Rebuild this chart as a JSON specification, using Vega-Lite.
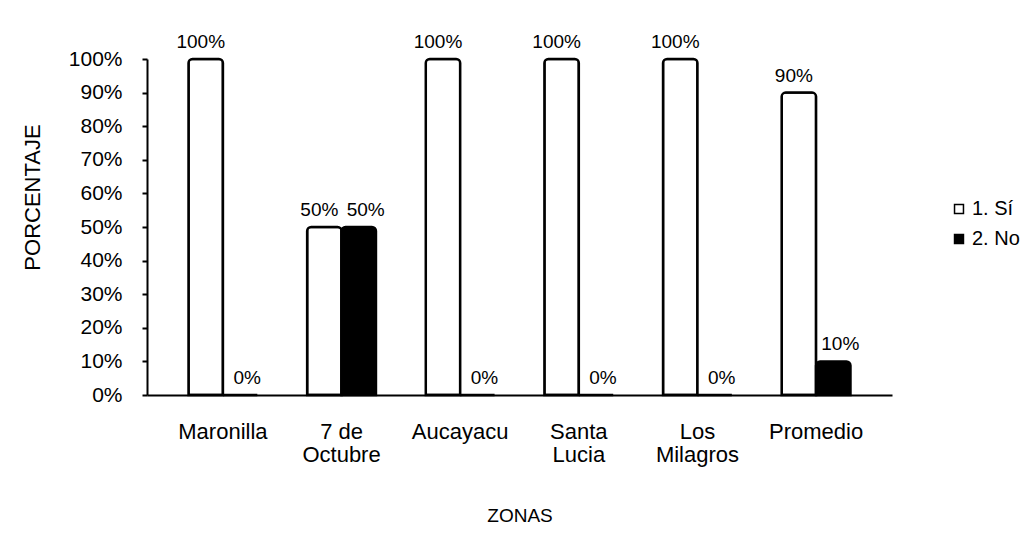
{
  "$schema": "https://vega.github.io/schema/vega-lite/v6.json",
  "autosize": {"type": "none"},
  "width": 745,
  "height": 336,
  "padding": {"left": 147, "top": 59, "right": 134, "bottom": 150},
  "background": "white",
  "config": {
    "font": "Liberation Sans",
    "view": {"stroke": null}
  },
  "data": {
    "values": [
      {"zona": "Maronilla", "serie": "1. Sí", "valor": 1.0},
      {"zona": "Maronilla", "serie": "2. No", "valor": 0.0},
      {"zona": "7 de|Octubre", "serie": "1. Sí", "valor": 0.5},
      {"zona": "7 de|Octubre", "serie": "2. No", "valor": 0.5},
      {"zona": "Aucayacu", "serie": "1. Sí", "valor": 1.0},
      {"zona": "Aucayacu", "serie": "2. No", "valor": 0.0},
      {"zona": "Santa|Lucia", "serie": "1. Sí", "valor": 1.0},
      {"zona": "Santa|Lucia", "serie": "2. No", "valor": 0.0},
      {"zona": "Los|Milagros", "serie": "1. Sí", "valor": 1.0},
      {"zona": "Los|Milagros", "serie": "2. No", "valor": 0.0},
      {"zona": "Promedio", "serie": "1. Sí", "valor": 0.9},
      {"zona": "Promedio", "serie": "2. No", "valor": 0.1}
    ]
  },
  "encoding": {
    "x": {
      "field": "zona",
      "type": "nominal",
      "sort": null,
      "scale": {"paddingInner": 0.42, "paddingOuter": 0.35},
      "axis": {
        "title": "ZONAS",
        "titleFontSize": 19,
        "titleFontWeight": "normal",
        "titleColor": "black",
        "titlePadding": 41,
        "labelExpr": "split(datum.label, '|')",
        "labelAngle": 0,
        "labelFontSize": 22,
        "labelColor": "black",
        "labelPadding": 26,
        "labelLineHeight": 23,
        "domain": true,
        "domainColor": "black",
        "domainWidth": 2,
        "ticks": false
      }
    },
    "xOffset": {"field": "serie", "type": "nominal"},
    "y": {
      "field": "valor",
      "type": "quantitative",
      "scale": {"domain": [0, 1]},
      "axis": {
        "title": "PORCENTAJE",
        "titleFontSize": 22,
        "titleFontWeight": "normal",
        "titleColor": "black",
        "titlePadding": 24,
        "titleY": 138,
        "format": ".0%",
        "values": [0, 0.1, 0.2, 0.3, 0.4, 0.5, 0.6, 0.7, 0.8, 0.9, 1.0],
        "labelFontSize": 21,
        "labelColor": "black",
        "labelPadding": 20,
        "grid": false,
        "domainColor": "black",
        "domainWidth": 2,
        "tickColor": "black",
        "tickWidth": 2,
        "tickSize": 5
      }
    }
  },
  "layer": [
    {
      "mark": {"type": "bar", "stroke": "black", "strokeWidth": 2.5, "cornerRadiusTopLeft": 4, "cornerRadiusTopRight": 4},
      "encoding": {
        "color": {
          "field": "serie",
          "type": "nominal",
          "scale": {"domain": ["1. Sí", "2. No"], "range": ["white", "black"]},
          "legend": {
            "title": null,
            "orient": "none",
            "legendX": 802,
            "legendY": 140,
            "padding": 0,
            "symbolType": "square",
            "symbolSize": 80,
            "symbolStrokeColor": "black",
            "symbolStrokeWidth": 1.5,
            "labelFontSize": 20,
            "labelColor": "black",
            "rowPadding": 10,
            "labelOffset": 3
          }
        }
      }
    },
    {
      "transform": [{"filter": "datum.serie === '1. Sí'"}],
      "mark": {"type": "text", "dy": -17, "dx": -5, "fontSize": 19, "color": "black"},
      "encoding": {
        "text": {"field": "valor", "type": "quantitative", "format": ".0%"}
      }
    },
    {
      "transform": [{"filter": "datum.serie === '2. No'"}],
      "mark": {"type": "text", "dy": -17, "dx": 7, "fontSize": 19, "color": "black"},
      "encoding": {
        "text": {"field": "valor", "type": "quantitative", "format": ".0%"}
      }
    }
  ]
}
